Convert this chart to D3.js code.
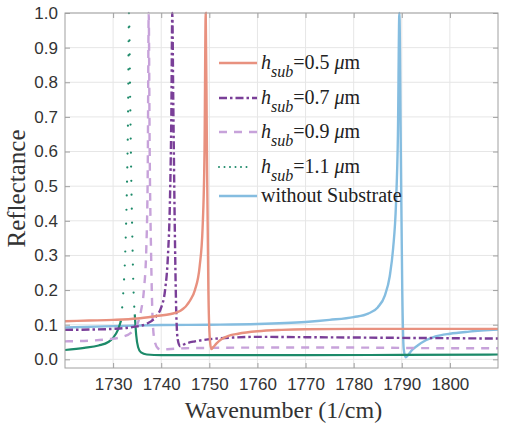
<!DOCTYPE html>
<html>
<head>
<meta charset="utf-8">
<script src="https://cdn.jsdelivr.net/npm/d3@7"></script>
<style>
  body { margin: 0; background: #fff; }
  svg { display: block; }
</style>
</head>
<body>
<div id="chart"></div>
<script>
// Data (wavenumber in 1/cm, reflectance)
const xTicks = [1730, 1740, 1750, 1760, 1770, 1780, 1790, 1800];
const yTicks = [0, 0.1, 0.2, 0.3, 0.4, 0.5, 0.6, 0.7, 0.8, 0.9, 1.0];

const sub05X = [1720, 1725, 1730, 1735, 1739, 1742, 1744, 1746, 1747, 1748, 1748.6, 1749.0, 1749.25, 1749.5, 1749.8, 1750.1, 1750.4, 1750.8, 1751.5, 1752.5, 1754, 1756, 1760, 1765, 1770, 1780, 1790, 1800, 1810];
const sub05Y = [0.110, 0.112, 0.114, 0.118, 0.125, 0.131, 0.140, 0.170, 0.200, 0.270, 0.380, 0.600, 1.0, 0.60, 0.20, 0.06, 0.030, 0.035, 0.046, 0.058, 0.068, 0.074, 0.081, 0.085, 0.087, 0.088, 0.088, 0.088, 0.088];

const sub07X = [1720, 1725, 1730, 1734, 1737, 1739, 1740, 1740.8, 1741.4, 1741.8, 1742.1, 1742.3, 1742.5, 1742.8, 1743.1, 1743.4, 1743.9, 1745, 1747, 1750, 1755, 1760, 1770, 1780, 1790, 1800, 1810];
const sub07Y = [0.085, 0.086, 0.088, 0.093, 0.103, 0.125, 0.150, 0.200, 0.300, 0.450, 0.700, 1.0, 0.75, 0.40, 0.15, 0.060, 0.038, 0.045, 0.052, 0.058, 0.063, 0.065, 0.064, 0.063, 0.062, 0.061, 0.060];

const sub09X = [1720, 1725, 1729, 1732, 1734, 1735, 1735.8, 1736.4, 1736.9, 1737.2, 1737.4, 1737.6, 1737.9, 1738.2, 1738.6, 1739.3, 1740, 1742, 1745, 1750, 1760, 1770, 1780, 1790, 1800, 1810];
const sub09Y = [0.052, 0.054, 0.058, 0.065, 0.080, 0.100, 0.140, 0.200, 0.320, 0.550, 1.0, 0.60, 0.30, 0.12, 0.055, 0.032, 0.028, 0.030, 0.032, 0.033, 0.034, 0.034, 0.034, 0.033, 0.032, 0.032];

const sub11X = [1720, 1724, 1727, 1729, 1730, 1731, 1731.6, 1732.1, 1732.5, 1732.8, 1733.1, 1733.3, 1733.55, 1733.8, 1734.0, 1734.2, 1734.5, 1734.8, 1735.2, 1735.8, 1737, 1740, 1750, 1770, 1790, 1810];
const sub11Y = [0.027, 0.033, 0.040, 0.050, 0.062, 0.085, 0.110, 0.190, 0.300, 0.450, 0.700, 1.0, 0.75, 0.50, 0.35, 0.22, 0.13, 0.07, 0.035, 0.020, 0.014, 0.012, 0.012, 0.012, 0.013, 0.014];

const noSubX = [1720, 1730, 1740, 1750, 1760, 1770, 1775, 1780, 1783, 1785, 1786.5, 1787.5, 1788.2, 1788.8, 1789.2, 1789.5, 1789.8, 1790.1, 1790.4, 1790.8, 1791.3, 1792, 1793.3, 1795, 1797, 1800, 1804, 1810];
const noSubY = [0.092, 0.096, 0.099, 0.100, 0.102, 0.108, 0.114, 0.122, 0.132, 0.150, 0.185, 0.240, 0.320, 0.450, 0.650, 1.0, 0.60, 0.20, 0.030, 0.006, 0.012, 0.025, 0.040, 0.055, 0.066, 0.074, 0.080, 0.086];

const seriesNames = ["0.5", "0.7", "0.9", "1.1", "without Substrate"];

const width = 509, height = 433;
const margin = { top: 13, right: 11, bottom: 65, left: 65 };
const axisColor = "#a0a0a0";
const serif = '"Liberation Serif", serif';
const sans = '"Liberation Sans", sans-serif';

const series = [
    { name: seriesNames[0], xs: sub05X, ys: sub05Y, color: "#e8917f", dash: null },
    { name: seriesNames[1], xs: sub07X, ys: sub07Y, color: "#7a3f98", dash: "8,3,2.5,3" },
    { name: seriesNames[2], xs: sub09X, ys: sub09Y, color: "#c7a2da", dash: "8,7" },
    { name: seriesNames[3], xs: sub11X, ys: sub11Y, color: "#1c8a69", dash: "dots" },
    { name: seriesNames[4], xs: noSubX, ys: noSubY, color: "#85bde0", dash: null }
];

const svg = d3.select("#chart").append("svg").attr("width", width).attr("height", height);

const x = d3.scaleLinear().domain([1720, 1810]).range([margin.left, width - margin.right]);
const y = d3.scaleLinear().domain([-0.025, 1.0]).range([height - margin.bottom, margin.top]);

const x0 = margin.left, x1 = width - margin.right;
const y0 = height - margin.bottom, y1 = margin.top;

// grid
svg.append("g").selectAll("line").data(xTicks).join("line")
    .attr("x1", d => x(d)).attr("x2", d => x(d)).attr("y1", y0).attr("y2", y1)
    .attr("stroke", "#e6e6e6").attr("stroke-width", 1);
svg.append("g").selectAll("line").data(yTicks).join("line")
    .attr("x1", x0).attr("x2", x1).attr("y1", d => y(d)).attr("y2", d => y(d))
    .attr("stroke", "#e6e6e6").attr("stroke-width", 1);

svg.append("clipPath").attr("id", "plotClip").append("rect")
    .attr("x", x0).attr("y", y1 - 2).attr("width", x1 - x0).attr("height", y0 - y1 + 2);

const plot = svg.append("g").attr("clip-path", "url(#plotClip)");

function lineFor(s, test) {
    return d3.line()
        .defined((d, i) => test ? test(s.ys[i]) : true)
        .curve(d3.curveMonotoneX)
        .x((d, i) => x(s.xs[i]))
        .y((d, i) => y(s.ys[i]))(s.xs);
}

// draw in reverse so the first series sits on top like the original
series.slice().reverse().forEach(s => {
    if (s.dash === "dots") {
        // flat part reads as a solid line, the steep part as loose dots
        plot.append("path").attr("d", lineFor(s, v => v <= 0.14))
            .attr("fill", "none").attr("stroke", s.color).attr("stroke-width", 2.2);
        plot.append("path").attr("d", lineFor(s, v => v >= 0.1))
            .attr("fill", "none").attr("stroke", s.color).attr("stroke-width", 2.2)
            .attr("stroke-linecap", "round").attr("stroke-dasharray", "0,14");
    } else {
        plot.append("path").attr("d", lineFor(s))
            .attr("fill", "none").attr("stroke", s.color).attr("stroke-width", 2.4)
            .attr("stroke-dasharray", s.dash);
    }
});

// axes box with inward ticks
const xAxis = d3.axisBottom(x).tickValues(xTicks).tickSizeInner(-5).tickSizeOuter(0).tickPadding(10).tickFormat(d3.format("d"));
const xAxisTop = d3.axisTop(x).tickValues(xTicks).tickSizeInner(-5).tickSizeOuter(0).tickFormat("");
const yAxis = d3.axisLeft(y).tickValues(yTicks).tickSizeInner(-5).tickSizeOuter(0).tickPadding(7).tickFormat(d3.format(".1f"));
const yAxisRight = d3.axisRight(y).tickValues(yTicks).tickSizeInner(-5).tickSizeOuter(0).tickFormat("");

const gx = svg.append("g").attr("transform", `translate(0,${y0})`).call(xAxis);
const gxt = svg.append("g").attr("transform", `translate(0,${y1})`).call(xAxisTop);
const gy = svg.append("g").attr("transform", `translate(${x0},0)`).call(yAxis);
const gyr = svg.append("g").attr("transform", `translate(${x1},0)`).call(yAxisRight);

[gx, gxt, gy, gyr].forEach(g => {
    g.select(".domain").remove();
    g.selectAll(".tick line").attr("stroke", axisColor);
    g.selectAll("text").attr("fill", "#333").style("font-family", sans).style("font-size", "17px");
});

svg.append("rect").attr("x", x0).attr("y", y1).attr("width", x1 - x0).attr("height", y0 - y1)
    .attr("fill", "none").attr("stroke", axisColor).attr("stroke-width", 1);

// axis titles
svg.append("text").attr("x", (x0 + x1) / 2 + 2).attr("y", 418)
    .attr("text-anchor", "middle").attr("fill", "#333")
    .style("font-family", serif).style("font-size", "24px")
    .text("Wavenumber (1/cm)");
svg.append("text").attr("transform", `translate(25,${(y0 + y1) / 2 - 2}) rotate(-90)`)
    .attr("text-anchor", "middle").attr("fill", "#333")
    .style("font-family", serif).style("font-size", "25px")
    .text("Reflectance");

// legend (no box, grid shows through)
const legendRows = [63, 98, 132, 167, 196];
const legend = svg.append("g");

series.forEach((s, i) => {
    const ly = legendRows[i];
    const ln = legend.append("line").attr("x1", 219).attr("x2", 257).attr("y1", ly).attr("y2", ly)
        .attr("stroke", s.color).attr("stroke-width", 2.4);
    if (s.dash === "dots") ln.attr("x2", 252).attr("stroke-width", 2).attr("stroke-linecap", "round").attr("stroke-dasharray", "0,5.5");
    else if (s.dash) ln.attr("stroke-dasharray", s.dash);

    const t = legend.append("text").attr("x", 261).attr("y", ly + 6).attr("fill", "#222")
        .style("font-family", serif).style("font-size", "20px");
    if (i < 4) {
        t.append("tspan").style("font-style", "italic").text("h");
        t.append("tspan").attr("dy", 8).style("font-style", "italic").style("font-size", "16px").text("sub");
        t.append("tspan").attr("dy", -8).text("=" + s.name + " ");
        t.append("tspan").style("font-style", "italic").text("\u03bc");
        t.append("tspan").text("m");
    } else {
        t.text(s.name);
    }
});
</script>
</body>
</html>
